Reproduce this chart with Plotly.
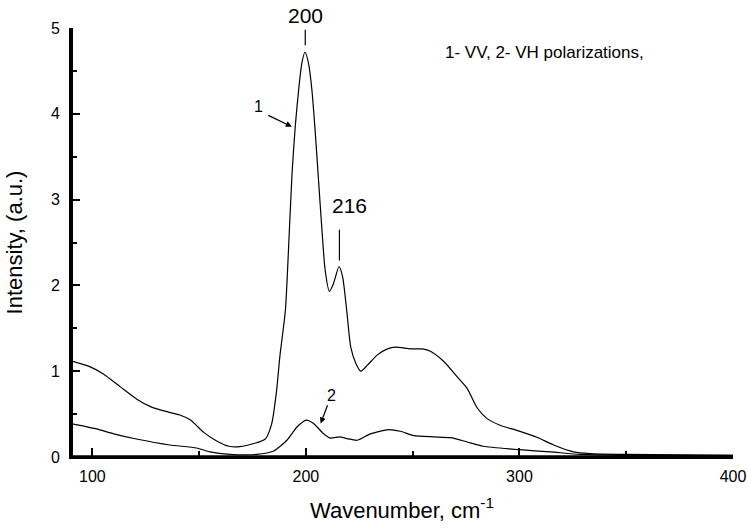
import plotly.graph_objects as go

# VV polarization (curve 1)
vv_x = [90, 99, 105, 113, 121, 127, 133, 141, 146, 152, 158, 164, 169, 176, 181, 184, 186.3, 187.8,
        190.4, 192, 193.5, 195, 196.6, 198.1, 199.6, 201.2, 202.8, 204.3, 205.9, 207.5, 209, 211,
        212.9, 215.5, 217.2, 219.1, 221, 223.4, 225.7, 228.8, 233.5, 238.2, 242, 249, 254.6, 258.5,
        264.7, 271, 275.5, 280, 284.7, 290.9, 298.8, 308.2, 316, 325.4, 333, 350, 375, 400]
vv_y = [1.12, 1.05, 0.97, 0.82, 0.67, 0.59, 0.54, 0.49, 0.43, 0.29, 0.19, 0.125, 0.12, 0.16, 0.21,
        0.39, 0.78, 1.17, 1.71, 2.5, 3.3, 3.85, 4.28, 4.59, 4.72, 4.59, 4.28, 3.81, 3.23, 2.65, 2.18,
        1.93, 2.02, 2.22, 2.1, 1.71, 1.28, 1.09, 1.0, 1.07, 1.19, 1.26, 1.28, 1.26, 1.26, 1.23, 1.11,
        0.93, 0.80, 0.58, 0.45, 0.37, 0.31, 0.23, 0.14, 0.06, 0.04, 0.03, 0.025, 0.02]

# VH polarization (curve 2)
vh_x = [90, 101.5, 110, 120.6, 136.3, 148.8, 155, 164.4, 176.9, 184.9, 191.1, 195.8, 200.2, 203.6,
        208.3, 211.4, 215.8, 219.2, 223.9, 230.2, 238.8, 244.2, 250.5, 259.9, 267.7, 275.5, 283,
        300, 314.5, 328.6, 350, 375, 400]
vh_y = [0.39, 0.33, 0.27, 0.21, 0.14, 0.105, 0.06, 0.03, 0.03, 0.07, 0.195, 0.35, 0.43, 0.39,
        0.27, 0.22, 0.235, 0.215, 0.195, 0.27, 0.32, 0.30, 0.25, 0.235, 0.225, 0.175, 0.125,
        0.085, 0.06, 0.03, 0.02, 0.02, 0.02]

x_ticks = [100, 200, 300, 400]
y_ticks = [0, 1, 2, 3, 4, 5]

FONT = "Arial, 'Liberation Sans', sans-serif"

fig = go.Figure()
fig.add_trace(go.Scatter(x=vv_x, y=vv_y, mode="lines",
                         line=dict(color="black", width=1.2, shape="spline", smoothing=0.6),
                         showlegend=False))
fig.add_trace(go.Scatter(x=vh_x, y=vh_y, mode="lines",
                         line=dict(color="black", width=1.2, shape="spline", smoothing=0.6),
                         showlegend=False))

# peak marker lines
fig.add_shape(type="line", x0=199.7, x1=199.7, y0=4.80, y1=4.98, line=dict(color="black", width=1.2))
fig.add_shape(type="line", x0=215.7, x1=215.7, y0=2.29, y1=2.65, line=dict(color="black", width=1.2))
# axis frame lines (left and bottom), drawn with pixel offsets just inside the plot edge
fig.add_shape(type="line", xref="paper", yref="paper", x0=0.0015, x1=0.0015, y0=-0.002, y1=1,
              layer="above", line=dict(color="black", width=2))
fig.add_shape(type="line", xref="paper", yref="paper", x0=0, x1=1, y0=0.002, y1=0.002,
              layer="above", line=dict(color="black", width=2))

anns = [
    dict(x=199.7, y=4.98, yanchor="bottom", yshift=1, text="200", showarrow=False,
         font=dict(size=21, family=FONT, color="black")),
    dict(x=220.4, y=2.93, text="216", showarrow=False, font=dict(size=21, family=FONT, color="black")),
    dict(x=177.7, y=4.08, text="1", showarrow=False, font=dict(size=16, family=FONT, color="black")),
    dict(x=212.0, y=0.72, text="2", showarrow=False, font=dict(size=16, family=FONT, color="black")),
    dict(x=264.2, y=4.72, text="1- VV, 2- VH polarizations,", showarrow=False, xanchor="left",
         font=dict(size=17, family=FONT, color="black")),
    dict(x=193.4, y=3.85, ax=181.7, ay=3.99, axref="x", ayref="y", xref="x", yref="y", text="",
         showarrow=True, arrowhead=2, arrowsize=1, arrowwidth=1.2, arrowcolor="black"),
    dict(x=206.9, y=0.39, ax=210.4, ay=0.62, axref="x", ayref="y", xref="x", yref="y", text="",
         showarrow=True, arrowhead=2, arrowsize=1, arrowwidth=1.2, arrowcolor="black"),
]
fig.update_layout(annotations=anns)

fig.update_layout(
    width=748, height=531,
    margin=dict(l=71, r=15, t=28, b=74, autoexpand=False),
    paper_bgcolor="white", plot_bgcolor="white",
    font=dict(family=FONT, color="black", size=15),
    xaxis=dict(range=[90, 400], tickvals=x_ticks, ticks="inside", ticklen=9, tickwidth=1.5,
               tickcolor="black", automargin=False,
               showline=True, linecolor="black", linewidth=2, showgrid=False, zeroline=False,
               tickfont=dict(size=16), ticklabelstandoff=4,
               minor=dict(tickvals=[150, 250, 350], ticks="inside", ticklen=6,
                          tickwidth=1.5, tickcolor="black"),
               title=dict(text="Wavenumber, cm<sup>-1</sup>", font=dict(size=22), standoff=18)),
    yaxis=dict(range=[0, 5], tickvals=y_ticks, ticks="inside", ticklen=9, tickwidth=1.5,
               tickcolor="black", automargin=False,
               showline=True, linecolor="black", linewidth=2, showgrid=False, zeroline=False,
               tickfont=dict(size=16), ticklabelstandoff=6,
               minor=dict(tickvals=[0.5, 1.5, 2.5, 3.5, 4.5], ticks="inside",
                          ticklen=6, tickwidth=1.5, tickcolor="black"),
               title=dict(text="Intensity, (a.u.)", font=dict(size=22), standoff=22)),
)

fig.write_html("out.html")
